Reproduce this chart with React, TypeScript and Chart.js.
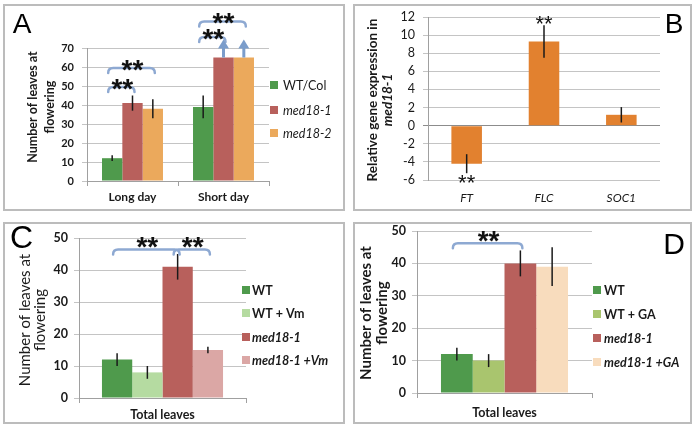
import React, { useEffect, useRef } from 'react';
import { Chart, registerables } from 'chart.js';
Chart.register(...registerables);

const PAGE_W = 697;
const PAGE_H = 432;
const SANS = 'Lato, "Liberation Sans", Arial, sans-serif';
const ARIAL = '"Liberation Sans", Arial, sans-serif';
const TEXT = '#1a1a1a';
const GRID = '#c4c4c4';
const AXIS = '#a0a0a0';
const BRACKET = '#8ea9d2';
const ARROW = '#7b9dcb';

// ---------------- Panel A ----------------
const aCategories = ['Long day', 'Short day'];
const aSeriesNames = ['WT/Col', 'med18-1', 'med18-2'];
const aWT = [12, 39];
const aMed181 = [41, 65];
const aMed182 = [38, 65];
const aWTErr = [1.5, 6];
const aMed181Err = [4, 0];
const aMed182Err = [5, 0];
const aTicks = [0, 10, 20, 30, 40, 50, 60, 70];
const aBracketCats = [0, 0, 1, 1];
const aBracketFrom = [0, 0, 0, 0];
const aBracketTo = [1, 2, 1, 2];
const aBracketLevels = [49.5, 59.5, 75.8, 84];
const aArrowCats = [1, 1];
const aArrowSeries = [1, 2];

// ---------------- Panel B ----------------
const bGenes = ['FT', 'FLC', 'SOC1'];
const bExpression = [-4.2, 9.3, 1.2];
const bExpressionErr = [1.05, 1.8, 0.85];
const bTicks = [-6, -4, -2, 0, 2, 4, 6, 8, 10, 12];
const bStarGenes = [0, 1];
const bStarSides = ['below', 'above'];

// ---------------- Panel C ----------------
const cCategory = ['Total leaves'];
const cSeriesNames = ['WT', 'WT + Vm', 'med18-1', 'med18-1 +Vm'];
const cValues = [12, 8, 41, 15];
const cErrors = [2, 2, 4, 1];
const cTicks = [0, 10, 20, 30, 40, 50];
const cBracketFrom = [0, 2];
const cBracketTo = [2, 3];
const cBracketLevels = [46.4, 46.4];

// ---------------- Panel D ----------------
const dCategory = ['Total leaves'];
const dSeriesNames = ['WT', 'WT + GA', 'med18-1', 'med18-1 +GA'];
const dValues = [12, 10, 40, 39];
const dErrors = [2, 2, 4, 6];
const dTicks = [0, 10, 20, 30, 40, 50];
const dBracketFrom = [0];
const dBracketTo = [2];
const dBracketLevels = [46.2];

const COLORS = {
  green: '#4f9a4c',
  red: '#b8605c',
  orange: '#eba95c',
  bOrange: '#e2812f',
  lightGreen: '#b5dba1',
  lightRed: '#dba7a5',
  olive: '#a9c56e',
  peach: '#f8dcbd',
};

type Bracket = { cat: number; from: number; to: number; level: number };

type Spec = {
  key: string;
  area: { left: number; top: number; right: number; bottom: number };
  labels: string[];
  datasets: { label: string; data: number[]; color: string }[];
  errors: number[][];
  ticks: number[];
  yFont: { size: number; weight: string };
  yPad: number;
  xFont: { size: number; weight: string; style: string };
  xPad: number;
  xAxisLine: boolean;
  xTickMarks: boolean;
  zeroLine: boolean;
  catPct: number;
  barPct: number;
  legend?: { boxX: number; textX: number; rows: number[]; box: number; size: number; weight: string };
  yTitle: { lines: { text: string; x: number; italic: boolean }[]; yc: number; size: number; weight: string };
  letter: { text: string; cx: number; cy: number; size: number };
  brackets: Bracket[];
  starGap: number;
  starSize: number;
  arrows: { cat: number; ds: number }[];
  barStars: { idx: number; side: string }[];
};

const Y_W = 40;
const X_H = 30;

function drawStars(ctx: CanvasRenderingContext2D, cx: number, cy: number, size: number, bold: boolean) {
  ctx.save();
  ctx.font = `${bold ? 'bold ' : ''}${size}px ${ARIAL}`;
  ctx.fillStyle = '#111';
  ctx.textAlign = 'center';
  ctx.textBaseline = 'alphabetic';
  ctx.fillText('**', cx, cy + size * 0.57);
  ctx.restore();
}

function overlayPlugin(spec: Spec) {
  return {
    id: 'overlay' + spec.key,
    afterDatasetsDraw(chart: any) {
      const ctx: CanvasRenderingContext2D = chart.ctx;
      const ys = chart.scales.y;
      // error bars
      ctx.save();
      ctx.strokeStyle = '#1a1a1a';
      ctx.lineWidth = 1.5;
      chart.data.datasets.forEach((ds: any, i: number) => {
        const meta = chart.getDatasetMeta(i);
        const errs = spec.errors[i];
        meta.data.forEach((bar: any, j: number) => {
          const e = errs[j];
          if (!e) return;
          const v = ds.data[j];
          ctx.beginPath();
          ctx.moveTo(bar.x, ys.getPixelForValue(v + e));
          ctx.lineTo(bar.x, ys.getPixelForValue(v - e));
          ctx.stroke();
        });
      });
      ctx.restore();

      // brackets with stars
      spec.brackets.forEach((b) => {
        const x1 = chart.getDatasetMeta(b.from).data[b.cat].x - 4;
        const x2 = chart.getDatasetMeta(b.to).data[b.cat].x + 2;
        const y = ys.getPixelForValue(b.level);
        ctx.save();
        ctx.strokeStyle = BRACKET;
        ctx.lineWidth = 2.5;
        ctx.lineCap = 'round';
        ctx.beginPath();
        ctx.moveTo(x1, y + 5);
        ctx.quadraticCurveTo(x1, y, x1 + 5, y);
        ctx.lineTo(x2 - 5, y);
        ctx.quadraticCurveTo(x2, y, x2, y + 5);
        ctx.stroke();
        ctx.restore();
        drawStars(ctx, (x1 + x2) / 2 + 1, y - spec.starGap, spec.starSize, true);
      });

      // stars at bars (panel B)
      spec.barStars.forEach((s) => {
        const bar = chart.getDatasetMeta(0).data[s.idx];
        const v = chart.data.datasets[0].data[s.idx];
        const e = spec.errors[0][s.idx];
        if (s.side === 'above') {
          drawStars(ctx, bar.x, ys.getPixelForValue(v + e) - 7, spec.starSize, false);
        } else {
          drawStars(ctx, bar.x, ys.getPixelForValue(v - e) + 4, spec.starSize, false);
        }
      });

      // arrows
      spec.arrows.forEach((a) => {
        const bar = chart.getDatasetMeta(a.ds).data[a.cat];
        const top = bar.y;
        ctx.save();
        ctx.strokeStyle = ARROW;
        ctx.fillStyle = ARROW;
        ctx.lineWidth = 3;
        ctx.beginPath();
        ctx.moveTo(bar.x, top);
        ctx.lineTo(bar.x, top - 10);
        ctx.stroke();
        ctx.beginPath();
        ctx.moveTo(bar.x, top - 18);
        ctx.lineTo(bar.x - 5.5, top - 9);
        ctx.lineTo(bar.x + 5.5, top - 9);
        ctx.closePath();
        ctx.fill();
        ctx.restore();
      });
    },
    afterDraw(chart: any) {
      const ctx: CanvasRenderingContext2D = chart.ctx;
      // legend
      if (spec.legend) {
        const L = spec.legend;
        chart.data.datasets.forEach((ds: any, i: number) => {
          const ry = L.rows[i];
          ctx.save();
          ctx.fillStyle = ds.backgroundColor;
          ctx.fillRect(L.boxX, ry - L.box / 2, L.box, L.box);
          const italic = ds.label.startsWith('med');
          ctx.font = `${italic ? 'italic ' : ''}${L.weight} ${L.size}px ${SANS}`;
          ctx.fillStyle = TEXT;
          ctx.textAlign = 'left';
          ctx.textBaseline = 'middle';
          ctx.fillText(ds.label, L.textX, ry + 0.5);
          ctx.restore();
        });
      }
      // y title
      const T = spec.yTitle;
      T.lines.forEach((ln) => {
        ctx.save();
        ctx.translate(ln.x, T.yc);
        ctx.rotate(-Math.PI / 2);
        ctx.font = `${ln.italic ? 'italic ' : ''}${T.weight} ${T.size}px ${SANS}`;
        ctx.fillStyle = TEXT;
        ctx.textAlign = 'center';
        ctx.textBaseline = 'middle';
        ctx.fillText(ln.text, 0, 0);
        ctx.restore();
      });
      // panel letter
      const P = spec.letter;
      ctx.save();
      ctx.font = `${P.size}px ${ARIAL}`;
      ctx.fillStyle = '#000';
      ctx.textAlign = 'center';
      ctx.textBaseline = 'alphabetic';
      ctx.fillText(P.text, P.cx, P.cy + P.size * 0.358);
      ctx.restore();
    },
  };
}

function buildConfig(spec: Spec): any {
  const t = spec.ticks;
  return {
    type: 'bar',
    data: {
      labels: spec.labels,
      datasets: spec.datasets.map((d) => ({
        label: d.label,
        data: d.data,
        backgroundColor: d.color,
        borderWidth: 0,
        categoryPercentage: spec.catPct,
        barPercentage: spec.barPct,
      })),
    },
    options: {
      responsive: false,
      animation: false,
      devicePixelRatio: 1,
      events: [],
      layout: {
        autoPadding: false,
        padding: {
          left: spec.area.left - Y_W,
          top: spec.area.top,
          right: PAGE_W - spec.area.right,
          bottom: PAGE_H - spec.area.bottom - X_H,
        },
      },
      plugins: { legend: { display: false }, tooltip: { enabled: false }, title: { display: false } },
      scales: {
        x: {
          type: 'category',
          offset: true,
          grid: {
            display: spec.xTickMarks,
            drawOnChartArea: false,
            drawTicks: spec.xTickMarks,
            tickLength: 5,
            color: AXIS,
          },
          border: { display: spec.xAxisLine, color: AXIS },
          ticks: {
            color: TEXT,
            padding: spec.xPad,
            maxRotation: 0,
            autoSkip: false,
            font: { family: SANS, size: spec.xFont.size, weight: spec.xFont.weight, style: spec.xFont.style },
          },
          afterFit: (s: any) => {
            s.height = X_H;
          },
        },
        y: {
          min: t[0],
          max: t[t.length - 1],
          ticks: {
            stepSize: t[1] - t[0],
            color: TEXT,
            padding: spec.yPad,
            font: { family: SANS, size: spec.yFont.size, weight: spec.yFont.weight },
          },
          grid: {
            tickLength: 5,
            color: (c: any) => (spec.zeroLine && c.tick && c.tick.value === 0 ? '#8c8c8c' : GRID),
          },
          border: { color: AXIS },
          afterFit: (s: any) => {
            s.width = Y_W;
          },
        },
      },
    },
    plugins: [overlayPlugin(spec)],
  };
}

const specA: Spec = {
  key: 'A',
  area: { left: 87, top: 48, right: 269, bottom: 181 },
  labels: aCategories,
  datasets: [
    { label: aSeriesNames[0], data: aWT, color: COLORS.green },
    { label: aSeriesNames[1], data: aMed181, color: COLORS.red },
    { label: aSeriesNames[2], data: aMed182, color: COLORS.orange },
  ],
  errors: [aWTErr, aMed181Err, aMed182Err],
  ticks: aTicks,
  yFont: { size: 11, weight: 'bold' },
  yPad: 8,
  xFont: { size: 12, weight: 'bold', style: 'normal' },
  xPad: 4,
  xAxisLine: true,
  xTickMarks: true,
  zeroLine: false,
  catPct: 0.67,
  barPct: 1,
  legend: { boxX: 270, textX: 283, rows: [85, 110, 133], box: 8, size: 12.5, weight: 'normal' },
  yTitle: {
    lines: [
      { text: 'Number of leaves at', x: 33, italic: false },
      { text: 'flowering', x: 49.5, italic: false },
    ],
    yc: 107,
    size: 12.5,
    weight: 'bold',
  },
  letter: { text: 'A', cx: 22, cy: 23, size: 28 },
  brackets: aBracketCats.map((c, i) => ({ cat: c, from: aBracketFrom[i], to: aBracketTo[i], level: aBracketLevels[i] })),
  starGap: 5,
  starSize: 28,
  arrows: aArrowCats.map((c, i) => ({ cat: c, ds: aArrowSeries[i] })),
  barStars: [],
};

const specB: Spec = {
  key: 'B',
  area: { left: 428, top: 17, right: 660, bottom: 180 },
  labels: bGenes,
  datasets: [{ label: 'med18-1', data: bExpression, color: COLORS.bOrange }],
  errors: [bExpressionErr],
  ticks: bTicks,
  yFont: { size: 12.5, weight: 'normal' },
  yPad: 8,
  xFont: { size: 12, weight: 'normal', style: 'italic' },
  xPad: 11,
  xAxisLine: false,
  xTickMarks: false,
  zeroLine: true,
  catPct: 1,
  barPct: 0.395,
  yTitle: {
    lines: [
      { text: 'Relative gene expression in', x: 373, italic: false },
      { text: 'med18-1', x: 388, italic: true },
    ],
    yc: 100,
    size: 13.5,
    weight: 'bold',
  },
  letter: { text: 'B', cx: 674, cy: 23, size: 28 },
  brackets: [],
  starGap: 0,
  starSize: 22,
  arrows: [],
  barStars: bStarGenes.map((g, i) => ({ idx: g, side: bStarSides[i] })),
};

const specC: Spec = {
  key: 'C',
  area: { left: 79, top: 238, right: 246, bottom: 398 },
  labels: cCategory,
  datasets: [
    { label: cSeriesNames[0], data: [cValues[0]], color: COLORS.green },
    { label: cSeriesNames[1], data: [cValues[1]], color: COLORS.lightGreen },
    { label: cSeriesNames[2], data: [cValues[2]], color: COLORS.red },
    { label: cSeriesNames[3], data: [cValues[3]], color: COLORS.lightRed },
  ],
  errors: cErrors.map((e) => [e]),
  ticks: cTicks,
  yFont: { size: 12.5, weight: 'bold' },
  yPad: 6,
  xFont: { size: 12.5, weight: 'bold', style: 'normal' },
  xPad: 4,
  xAxisLine: true,
  xTickMarks: true,
  zeroLine: false,
  catPct: 0.725,
  barPct: 1,
  legend: { boxX: 242, textX: 252, rows: [290, 313, 337, 360], box: 8, size: 12.5, weight: 'bold' },
  yTitle: {
    lines: [
      { text: 'Number of leaves at', x: 25, italic: false },
      { text: 'flowering', x: 40.5, italic: false },
    ],
    yc: 320,
    size: 15,
    weight: 'normal',
  },
  letter: { text: 'C', cx: 21.5, cy: 236.5, size: 32 },
  brackets: cBracketFrom.map((f, i) => ({ cat: 0, from: f, to: cBracketTo[i], level: cBracketLevels[i] })),
  starGap: 9.5,
  starSize: 28,
  arrows: [],
  barStars: [],
};

const specD: Spec = {
  key: 'D',
  area: { left: 417, top: 231, right: 592, bottom: 393 },
  labels: dCategory,
  datasets: [
    { label: dSeriesNames[0], data: [dValues[0]], color: COLORS.green },
    { label: dSeriesNames[1], data: [dValues[1]], color: COLORS.olive },
    { label: dSeriesNames[2], data: [dValues[2]], color: COLORS.red },
    { label: dSeriesNames[3], data: [dValues[3]], color: COLORS.peach },
  ],
  errors: dErrors.map((e) => [e]),
  ticks: dTicks,
  yFont: { size: 12.5, weight: 'bold' },
  yPad: 6,
  xFont: { size: 12.5, weight: 'bold', style: 'normal' },
  xPad: 7,
  xAxisLine: true,
  xTickMarks: true,
  zeroLine: false,
  catPct: 0.726,
  barPct: 1,
  legend: { boxX: 593, textX: 604, rows: [290, 314, 338, 362], box: 8, size: 12.5, weight: 'bold' },
  yTitle: {
    lines: [
      { text: 'Number of leaves at', x: 366, italic: false },
      { text: 'flowering', x: 382, italic: false },
    ],
    yc: 313,
    size: 15,
    weight: 'bold',
  },
  letter: { text: 'D', cx: 674, cy: 243, size: 30 },
  brackets: dBracketFrom.map((f, i) => ({ cat: 0, from: f, to: dBracketTo[i], level: dBracketLevels[i] })),
  starGap: 9,
  starSize: 28,
  arrows: [],
  barStars: [],
};

function PanelChart({ spec }: { spec: Spec }) {
  const ref = useRef<HTMLCanvasElement | null>(null);
  useEffect(() => {
    if (!ref.current) return;
    const chart = new Chart(ref.current, buildConfig(spec));
    return () => chart.destroy();
  }, [spec]);
  return (
    <canvas
      ref={ref}
      width={PAGE_W}
      height={PAGE_H}
      style={{ position: 'absolute', left: 0, top: 0, width: PAGE_W, height: PAGE_H }}
    />
  );
}

const boxes = [
  { left: 3, top: 4, right: 345, bottom: 211 },
  { left: 353, top: 4, right: 692, bottom: 211 },
  { left: 3, top: 222, right: 345, bottom: 424 },
  { left: 353, top: 222, right: 692, bottom: 424 },
];

export default function App() {
  return (
    <div
      style={{
        position: 'absolute',
        left: 0,
        top: 0,
        width: PAGE_W,
        height: PAGE_H,
        background: '#fff',
        overflow: 'hidden',
      }}
    >
      {boxes.map((b, i) => (
        <div
          key={i}
          style={{
            position: 'absolute',
            left: b.left,
            top: b.top,
            width: b.right - b.left,
            height: b.bottom - b.top,
            border: '2px solid #bcbcbc',
            boxSizing: 'border-box',
          }}
        />
      ))}
      <PanelChart spec={specA} />
      <PanelChart spec={specB} />
      <PanelChart spec={specC} />
      <PanelChart spec={specD} />
    </div>
  );
}
